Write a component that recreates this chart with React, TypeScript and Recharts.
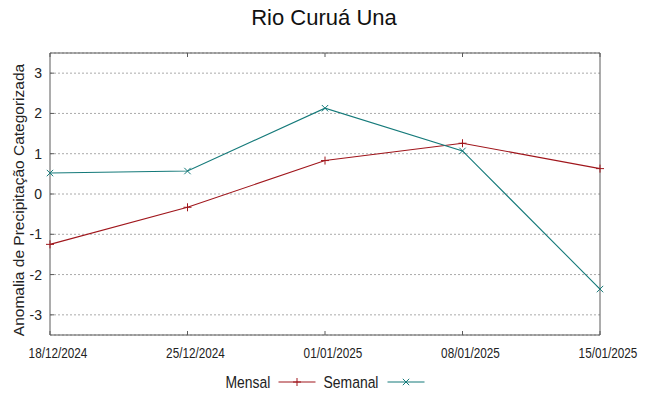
import React from "react";
import {
  LineChart,
  Line,
  XAxis,
  YAxis,
  CartesianGrid,
} from "recharts";

const dates = ["18/12/2024", "25/12/2024", "01/01/2025", "08/01/2025", "15/01/2025"];
const mensal = [-1.25, -0.33, 0.83, 1.26, 0.63];
const semanal = [0.52, 0.57, 2.13, 1.07, -2.36];
const yTicks = [-3, -2, -1, 0, 1, 2, 3];

const MENSAL_COLOR = "#a0161c";
const SEMANAL_COLOR = "#157a7a";
const AXIS_COLOR = "#5a5a5a";
const FONT = "'Liberation Sans', Arial, sans-serif";

const data = dates.map((d, i) => ({ date: d, mensal: mensal[i], semanal: semanal[i] }));

// marcador "+"
const PlusDot = (props: any) => {
  const { cx, cy } = props;
  if (cx == null || cy == null) return null;
  const s = 4;
  return (
    <path
      d={`M${cx - s},${cy}H${cx + s}M${cx},${cy - s}V${cy + s}`}
      stroke={MENSAL_COLOR}
      strokeWidth={1}
      fill="none"
    />
  );
};

// marcador "x"
const CrossDot = (props: any) => {
  const { cx, cy } = props;
  if (cx == null || cy == null) return null;
  const s = 3.2;
  return (
    <path
      d={`M${cx - s},${cy - s}L${cx + s},${cy + s}M${cx - s},${cy + s}L${cx + s},${cy - s}`}
      stroke={SEMANAL_COLOR}
      strokeWidth={1}
      fill="none"
    />
  );
};

// rótulos do eixo x, fonte estreita
const XTick = (props: any) => {
  const { x, y, payload } = props;
  return (
    <g transform={`translate(${x + 8},${y + 27}) scale(0.84,1)`}>
      <text x={0} y={0} textAnchor="middle" fill="#222" style={{ fontFamily: FONT, fontSize: 14 }}>
        {payload.value}
      </text>
    </g>
  );
};

const series = [
  { key: "mensal", name: "Mensal", color: MENSAL_COLOR, dot: PlusDot },
  { key: "semanal", name: "Semanal", color: SEMANAL_COLOR, dot: CrossDot },
];

const Legenda = () => {
  // texto estreito + amostra de linha, centrado
  const textW = [45, 56];
  const gap = 8;
  const sample = 37;
  const total = textW[0] + gap + sample + gap + textW[1] + gap + sample;
  let x = 324 - total / 2 + 1;
  const items: React.ReactNode[] = [];
  series.forEach((s, i) => {
    items.push(
      <g key={s.key + "t"} transform={`translate(${x},388) scale(0.82,1)`}>
        <text x={0} y={0} fill="#222" style={{ fontFamily: FONT, fontSize: 17 }}>
          {s.name}
        </text>
      </g>
    );
    x += textW[i] + gap;
    const mid = x + sample / 2;
    items.push(
      <g key={s.key + "l"}>
        <line x1={x} y1={382} x2={x + sample} y2={382} stroke={s.color} strokeWidth={1.2} />
        {i === 0 ? (
          <path d={`M${mid},378V386M${mid - 4},382H${mid + 4}`} stroke={s.color} strokeWidth={1} />
        ) : (
          <path
            d={`M${mid - 3.2},378.8L${mid + 3.2},385.2M${mid - 3.2},385.2L${mid + 3.2},378.8`}
            stroke={s.color}
            strokeWidth={1}
          />
        )}
      </g>
    );
    x += sample + gap;
  });
  return (
    <svg width={648} height={396} style={{ position: "absolute", left: 0, top: 0, pointerEvents: "none" }}>
      {items}
    </svg>
  );
};

const App: React.FC = () => {
  return (
    <div style={{ position: "absolute", left: 0, top: 0, width: 648, height: 396, background: "#fff" }}>
      <div
        style={{
          position: "absolute",
          left: 0,
          top: 5,
          width: 648,
          textAlign: "center",
          fontFamily: FONT,
          fontSize: 22,
          color: "#111",
        }}
      >
        Rio Curuá Una
      </div>
      <div
        style={{
          position: "absolute",
          left: 19,
          top: 200,
          transform: "translate(-50%, -50%) rotate(-90deg)",
          whiteSpace: "nowrap",
          fontFamily: FONT,
          fontSize: 15.5,
          color: "#222",
        }}
      >
        Anomalia de Precipitação Categorizada
      </div>
      <LineChart
        width={648}
        height={396}
        data={data}
        margin={{ top: 52, right: 47, bottom: 31, left: 0 }}
        style={{ position: "absolute", left: 0, top: 0 }}
      >
        <CartesianGrid
          xAxisId="bottom"
          yAxisId="left"
          vertical={false}
          stroke="#aaa"
          strokeDasharray="2 2"
        />
        <XAxis
          xAxisId="bottom"
          dataKey="date"
          height={30}
          interval={0}
          stroke={AXIS_COLOR}
          tickSize={-4}
          tickMargin={0}
          tick={<XTick />}
        />
        <XAxis
          xAxisId="top"
          dataKey="date"
          orientation="top"
          height={1}
          interval={0}
          stroke={AXIS_COLOR}
          tickSize={-4}
          tickFormatter={() => ""}
        />
        <YAxis
          yAxisId="left"
          width={50}
          domain={[-3.5, 3.5]}
          ticks={yTicks}
          stroke={AXIS_COLOR}
          tickSize={-4}
          tickMargin={12}
          tick={{ fill: "#222", fontSize: 14, fontFamily: FONT }}
        />
        <YAxis
          yAxisId="right"
          orientation="right"
          width={1}
          domain={[-3.5, 3.5]}
          ticks={yTicks}
          stroke={AXIS_COLOR}
          tickSize={-4}
          tickFormatter={() => ""}
        />
        {series.map((s) => (
          <Line
            key={s.key}
            xAxisId="bottom"
            yAxisId="left"
            type="linear"
            dataKey={s.key}
            name={s.name}
            stroke={s.color}
            strokeWidth={1.1}
            dot={<s.dot />}
            activeDot={false}
            isAnimationActive={false}
          />
        ))}
      </LineChart>
      <Legenda />
    </div>
  );
};

export default App;
